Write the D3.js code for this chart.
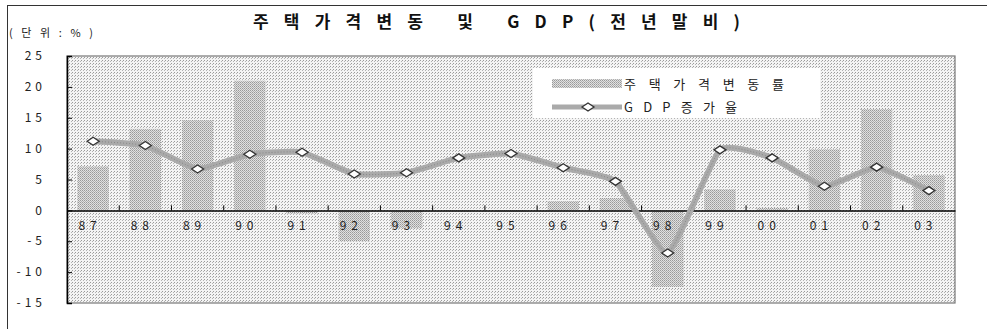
<!DOCTYPE html>
<html>
<head>
<meta charset="utf-8">
<script src="https://cdn.jsdelivr.net/npm/d3@7"></script>
<style>
body{margin:0;background:#fff;}
svg{display:block;}
</style>
</head>
<body>
<svg id="chart" width="987" height="329"></svg>
<script>
// ---- data ----
const years = ["87","88","89","90","91","92","93","94","95","96","97","98","99","00","01","02","03"];
const housing = [7.1, 13.2, 14.6, 21.0, -0.5, -5.0, -2.9, -0.1, -0.2, 1.5, 2.0, -12.4, 3.4, 0.4, 9.9, 16.4, 5.7];
const gdp = [11.2, 10.5, 6.7, 9.1, 9.4, 5.9, 6.1, 8.5, 9.2, 6.9, 4.7, -6.9, 9.8, 8.5, 3.9, 7.0, 3.2];
const yTicks = [25, 20, 15, 10, 5, 0, -5, -10, -15];
const title = "주택가격변동 및 GDP(전년말비)";
const unitLabel = "(단위:%)";
const legendLabels = ["주택가격변동률", "GDP증가율"];

const svg = d3.select("#chart");
const pL = 67, pR = 955, pT = 56, pB = 303;
const font = "'Noto Sans CJK KR', 'Noto Sans', sans-serif";

// patterns (dither-like texture)
const defs = svg.append("defs");
const bgPat = defs.append("pattern").attr("id","bgdither").attr("width",3).attr("height",3).attr("patternUnits","userSpaceOnUse");
bgPat.append("rect").attr("width",3).attr("height",3).attr("fill","#f4f4f4");
bgPat.append("rect").attr("x",0).attr("y",0).attr("width",1).attr("height",1).attr("fill","#9a9a9a");
bgPat.append("rect").attr("x",2).attr("y",1).attr("width",1).attr("height",1).attr("fill","#b4b4b4");
const barPat = defs.append("pattern").attr("id","bardither").attr("width",2).attr("height",2).attr("patternUnits","userSpaceOnUse");
barPat.append("rect").attr("width",2).attr("height",2).attr("fill","#e0e0e0");
barPat.append("rect").attr("x",0).attr("y",0).attr("width",1).attr("height",1).attr("fill","#999");
barPat.append("rect").attr("x",1).attr("y",1).attr("width",1).attr("height",1).attr("fill","#b0b0b0");

// outer frame lines
svg.append("line").attr("x1",7).attr("x2",987).attr("y1",5.5).attr("y2",5.5).attr("stroke","#333").attr("stroke-width",1);
svg.append("line").attr("x1",7.5).attr("x2",7.5).attr("y1",5).attr("y2",329).attr("stroke","#333").attr("stroke-width",1);

// scales
const x = d3.scaleBand().domain(years).range([pL, pR]).paddingInner(0.4).paddingOuter(0.2);
const xb = d3.scaleBand().domain(years).range([pL, pR]);
const y = d3.scaleLinear().domain([-15, 25]).range([pB, pT]);

// plot background
svg.append("rect").attr("x",pL).attr("y",pT).attr("width",pR-pL).attr("height",pB-pT)
  .attr("fill","url(#bgdither)").attr("stroke","#777").attr("stroke-width",1.2);

// bars
svg.append("g").selectAll("rect").data(years).join("rect")
  .attr("x", d => x(d))
  .attr("width", x.bandwidth())
  .attr("y", (d,i) => y(Math.max(0, housing[i])))
  .attr("height", (d,i) => Math.abs(y(housing[i]) - y(0)))
  .attr("fill","url(#bardither)");

// y axis
const yAxis = d3.axisLeft(y).tickValues(yTicks).tickSize(-5).tickFormat("");
const gy = svg.append("g").attr("transform",`translate(${pL},0)`).call(yAxis);
gy.select(".domain").attr("stroke","#000").attr("stroke-width",1.5);
gy.selectAll(".tick line").attr("stroke","#000");
svg.append("g").selectAll("text").data(yTicks).join("text")
  .attr("x", 46).attr("y", d => y(d)).attr("dy","0.35em")
  .attr("text-anchor","end")
  .attr("font-family",font).attr("font-size",12).attr("letter-spacing","4px").attr("fill","#222")
  .text(d => d < 0 ? "-" + Math.abs(d) : String(d));

// x axis on zero line
const xAxis = d3.axisTop(xb).tickSize(0).tickFormat("");
const gx = svg.append("g").attr("transform",`translate(0,${y(0)})`).call(xAxis);
gx.select(".domain").attr("stroke","#000").attr("stroke-width",1.5);
// boundary ticks
svg.append("g").selectAll("line").data(years.slice(1)).join("line")
  .attr("x1", d => xb(d)).attr("x2", d => xb(d))
  .attr("y1", y(0)).attr("y2", y(0) - 5).attr("stroke","#000").attr("stroke-width",1);
svg.append("g").selectAll("text").data(years).join("text")
  .attr("x", d => xb(d) + xb.bandwidth()/2 - 3).attr("y", y(0) + 15).attr("dy","0.35em")
  .attr("text-anchor","middle")
  .attr("font-family",font).attr("font-size",12).attr("letter-spacing","5px").attr("fill","#222")
  .text(d => d);

// GDP line
const pts = years.map((d,i) => [xb(d) + xb.bandwidth()/2, y(gdp[i])]);
const line = d3.line().curve(d3.curveCardinal.tension(0.55));
svg.append("path").attr("d", line(pts)).attr("fill","none").attr("stroke","#aaa").attr("stroke-width",6).attr("stroke-linejoin","round");
svg.append("path").attr("d", line(pts)).attr("fill","none").attr("stroke","#888").attr("stroke-width",1).attr("stroke-dasharray","1 2");
const diamond = "M-6,0L0,-4L6,0L0,4Z";
svg.append("g").selectAll("path").data(pts).join("path")
  .attr("transform", p => `translate(${p[0]},${p[1]})`)
  .attr("d", diamond).attr("fill","#fff").attr("stroke","#333").attr("stroke-width",1.3);

// legend
const lg = svg.append("g");
lg.append("rect").attr("x",533).attr("y",68).attr("width",287).attr("height",50).attr("fill","#fff");
lg.append("rect").attr("x",552).attr("y",79).attr("width",70).attr("height",9).attr("fill","url(#bardither)");
lg.append("line").attr("x1",552).attr("x2",622).attr("y1",107).attr("y2",107).attr("stroke","#aaa").attr("stroke-width",5);
lg.append("path").attr("transform","translate(588,107)").attr("d",diamond).attr("fill","#fff").attr("stroke","#333").attr("stroke-width",1.3);
lg.append("text").attr("x",624).attr("y",84).attr("dy","0.35em").attr("font-family",font).attr("font-size",13).attr("fill","#222")
  .attr("textLength",160).attr("lengthAdjust","spacing").text(legendLabels[0]);
lg.append("text").attr("x",624).attr("y",107).attr("dy","0.35em").attr("font-family",font).attr("font-size",13).attr("fill","#222")
  .attr("textLength",113).attr("lengthAdjust","spacing").text(legendLabels[1]);

// title and unit
svg.append("text").attr("x",253).attr("y",28).attr("font-family",font).attr("font-size",17).attr("font-weight","bold").attr("fill","#111")
  .attr("textLength",487).attr("lengthAdjust","spacing").text(title);
svg.append("text").attr("x",9).attr("y",37).attr("font-family",font).attr("font-size",11).attr("fill","#222")
  .attr("textLength",84).attr("lengthAdjust","spacing").text(unitLabel);
</script>
</body>
</html>
